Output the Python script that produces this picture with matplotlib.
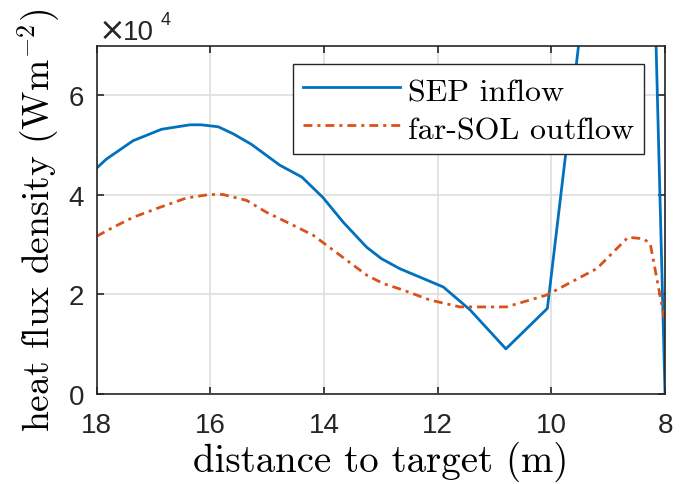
import matplotlib
matplotlib.use('Agg')
import matplotlib.pyplot as plt

plt.rcParams['mathtext.fontset'] = 'cm'

# SEP inflow (goes far above the axis top between 10 and 8 m)
sep_x = [18.0, 17.83, 17.36, 16.86, 16.36, 16.16, 15.86, 15.60, 15.28, 14.78,
         14.39, 14.02, 13.66, 13.25, 12.99, 12.67, 11.90, 11.43, 10.80, 10.07,
         8.40, 8.0]
sep_y = [4.54e4, 4.72e4, 5.09e4, 5.32e4, 5.41e4, 5.41e4, 5.37e4, 5.23e4, 5.02e4, 4.60e4,
         4.36e4, 3.95e4, 3.45e4, 2.95e4, 2.72e4, 2.52e4, 2.15e4, 1.69e4, 0.906e4, 1.72e4,
         1.78e5, 0.0]

# far-SOL outflow
sol_x = [18.0, 17.71, 17.36, 16.89, 16.42, 16.01, 15.78, 15.36, 15.01, 14.54,
         14.19, 13.72, 13.25, 12.96, 12.61, 12.14, 11.61, 11.43, 10.79, 10.08,
         9.20, 8.65, 8.38, 8.26, 8.0]
sol_y = [3.17e4, 3.35e4, 3.55e4, 3.75e4, 3.94e4, 4.01e4, 4.01e4, 3.89e4, 3.65e4, 3.39e4,
         3.19e4, 2.79e4, 2.39e4, 2.22e4, 2.09e4, 1.89e4, 1.75e4, 1.75e4, 1.75e4, 1.99e4,
         2.52e4, 3.15e4, 3.12e4, 3.02e4, 1.45e4]

xticks = [18, 16, 14, 12, 10, 8]
yticks = [0, 2e4, 4e4, 6e4]
ytick_labels = ['0', '2', '4', '6']

fig = plt.figure(figsize=(6.96, 4.85), dpi=100)
ax = fig.add_axes([0.1389, 0.1856, 0.8166, 0.7181])

ax.plot(sep_x, sep_y, color='#0072BD', lw=2.0, label='SEP inflow')
ax.plot(sol_x, sol_y, color='#D95319', lw=2.0, ls=(0, (3.2, 1.8, 1.1, 1.8)),
        label='far-SOL outflow')

ax.set_xlim(18, 8)
ax.set_ylim(0, 7e4)
ax.set_xticks(xticks)
ax.set_xticklabels([str(t) for t in xticks])
ax.set_yticks(yticks)
ax.set_yticklabels(ytick_labels)
ax.grid(True, color='#dedede', lw=1.2)
ax.set_axisbelow(True)

for s in ax.spines.values():
    s.set_color('#262626')
    s.set_linewidth(1.2)
ax.tick_params(direction='in', length=5, width=1.2, color='#262626',
               top=True, right=True, labelsize=20, labelcolor='#262626')
ax.tick_params(axis='x', pad=13)
ax.tick_params(axis='y', pad=9)
for lab in ax.get_xticklabels() + ax.get_yticklabels():
    lab.set_family('Liberation Sans')

# MATLAB-style exponent above the y axis
ax.text(0.004, 1.020, '\u00d7', transform=ax.transAxes, fontsize=23,
        family='DejaVu Sans', color='#262626', ha='left', va='baseline')
ax.text(0.046, 1.020, '10', transform=ax.transAxes, fontsize=20,
        family='Liberation Sans', color='#262626', ha='left', va='baseline')
ax.text(0.113, 1.063, '4', transform=ax.transAxes, fontsize=13,
        family='Liberation Sans', color='#262626', ha='left', va='baseline')

ax.set_xlabel('distance to target (m)', family='cmr10', fontsize=28, labelpad=2)
ax.set_ylabel('heat flux density (Wm$^{-2}$)', family='cmr10', fontsize=27, labelpad=5)

leg = ax.legend(loc='upper right', bbox_to_anchor=(0.963, 0.947), borderaxespad=0,
                prop={'family': 'cmr10', 'size': 23}, fancybox=False,
                framealpha=1, edgecolor='#262626', handlelength=3.06,
                handleheight=1.2, borderpad=0.3, labelspacing=0.15,
                handletextpad=0.25)
leg.get_frame().set_linewidth(1.0)

fig.savefig('out.png', dpi=100)
